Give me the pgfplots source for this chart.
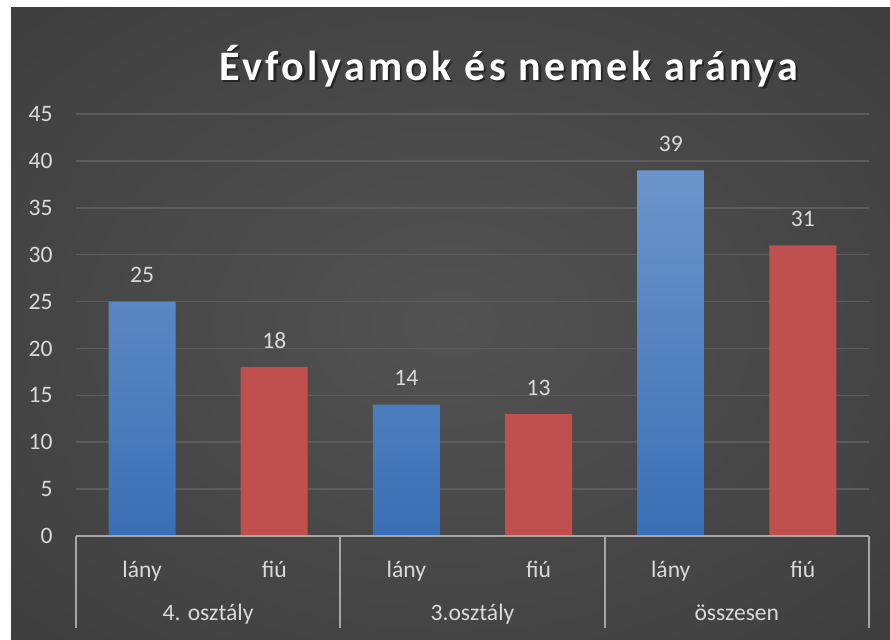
\documentclass[border=0pt]{standalone}
\usepackage{pgfplots}
\pgfplotsset{compat=1.18}
\usepackage{fontspec}
\setmainfont{Carlito}
\newfontfamily\titlefont[LetterSpace=8]{Carlito}

\definecolor{bgin}{HTML}{525252}
\definecolor{bgout}{HTML}{2A2A2A}
\definecolor{gridc}{HTML}{5C5C5C}
\definecolor{axisc}{HTML}{A6A6A6}
\definecolor{lbl}{HTML}{D9D9D9}
\definecolor{bluetop}{HTML}{6C95CB}
\definecolor{bluebot}{HTML}{3A6FB5}
\definecolor{redbar}{HTML}{C0504D}

\pgfdeclareradialshading{bgshade}{\pgfpoint{0bp}{0bp}}{color(0bp)=(bgin); color(72bp)=(bgout)}

\begin{document}
\begin{tikzpicture}
\fill[white] (0,0) rectangle (445pt,319.5pt);
\shade[shading=bgshade] (5.5pt,0) rectangle (445pt,315.5pt);

% title with soft shadow
\node[anchor=base, text=black, opacity=0.45, font=\titlefont\bfseries\fontsize{21}{24}\selectfont]
  at (255.6pt,278.4pt) {Évfolyamok és nemek aránya};
\node[anchor=base, text=white, font=\titlefont\bfseries\fontsize{21}{24}\selectfont]
  at (254.5pt,279.5pt) {Évfolyamok és nemek aránya};

\begin{axis}[
  at={(38pt,51.5pt)}, anchor=south west,
  scale only axis, width=396.5pt, height=211pt,
  xmin=-0.5, xmax=5.5, ymin=0, ymax=45,
  ytick={0,5,...,45},
  xtick={0,...,5},
  xticklabels={lány,fiú,lány,fiú,lány,fiú},
  axis line style={draw=none},
  tick style={draw=none},
  ymajorgrids, grid style={gridc, line width=0.75pt},
  font=\fontsize{11.8}{14}\selectfont,
  tick label style={text=lbl},
  /pgf/number format/assume math mode=true,
  yticklabel style={anchor=east, inner sep=0pt, xshift=-11.5pt},
  xticklabel style={anchor=base, inner sep=0pt, yshift=-16.5pt},
  ybar, bar width=33.5pt,
  every node near coord/.append style={anchor=base, inner sep=0pt, yshift=9.5pt, text=lbl,
    font=\fontsize{11.8}{14}\selectfont},
  clip=false,
]
\addplot[bar shift=0pt, draw=none, top color=bluetop, bottom color=bluebot, nodes near coords]
  coordinates {(0,25) (2,14) (4,39)};
\addplot[bar shift=0pt, draw=none, fill=redbar, nodes near coords]
  coordinates {(1,18) (3,13) (5,31)};

\draw[axisc, line width=1pt] (axis cs:-0.5,0) -- (axis cs:5.5,0);
\draw[axisc, line width=1pt] (axis cs:-0.5,0) -- ([yshift=-46pt]axis cs:-0.5,0);
\draw[axisc, line width=1pt] (axis cs:1.5,0) -- ([yshift=-46pt]axis cs:1.5,0);
\draw[axisc, line width=1pt] (axis cs:3.5,0) -- ([yshift=-46pt]axis cs:3.5,0);
\draw[axisc, line width=1pt] (axis cs:5.5,0) -- ([yshift=-46pt]axis cs:5.5,0);
\node[anchor=base, text=lbl, yshift=-42pt] at (axis cs:0.5,0) {4. osztály};
\node[anchor=base, text=lbl, yshift=-42pt] at (axis cs:2.5,0) {3.osztály};
\node[anchor=base, text=lbl, yshift=-42pt] at (axis cs:4.5,0) {összesen};
\end{axis}
\end{tikzpicture}
\end{document}
